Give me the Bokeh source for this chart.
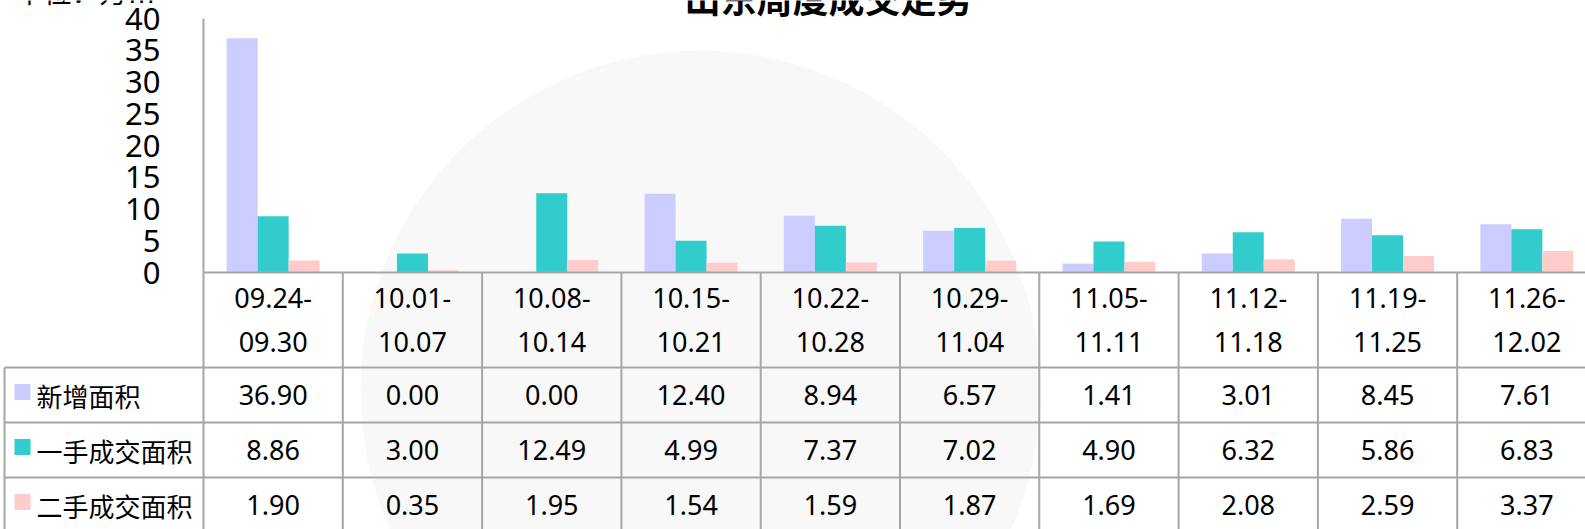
from bokeh.plotting import figure
from bokeh.models import Range1d
from bokeh.embed import file_html
from bokeh.resources import INLINE
from bokeh.core.properties import value

# ---------------- data ----------------
title_text = "山东周度成交走势"
unit_text = "单位：万㎡"
weeks = ["09.24-09.30", "10.01-10.07", "10.08-10.14", "10.15-10.21", "10.22-10.28",
         "10.29-11.04", "11.05-11.11", "11.12-11.18", "11.19-11.25", "11.26-12.02"]
series_names = ["新增面积", "一手成交面积", "二手成交面积"]
new_area = [36.90, 0.00, 0.00, 12.40, 8.94, 6.57, 1.41, 3.01, 8.45, 7.61]
first_hand = [8.86, 3.00, 12.49, 4.99, 7.37, 7.02, 4.90, 6.32, 5.86, 6.83]
second_hand = [1.90, 0.35, 1.95, 1.54, 1.59, 1.87, 1.69, 2.08, 2.59, 3.37]
y_ticks = [0, 5, 10, 15, 20, 25, 30, 35, 40]
colors = ["#CCCCFF", "#33CCCC", "#FFCCCC"]

# ---------------- layout constants (screen px) ----------------
W, H = 1585, 529
CW = 139.3          # px per category column
LEFT = 203          # x of the value axis
BASE = 272          # y of the value 0 / table top
TOP = 18            # y of the value 40
FONT = "Noto Sans CJK SC"
NUMFONT = "Noto Sans"
GRID = "#a6a6a6"
BW = 31 / CW
YMAX = 40
PX = (BASE - TOP) / YMAX

n = len(weeks)
series = [new_area, first_hand, second_hand]


def cx(px):
    """screen x (px) -> column units"""
    return (px - LEFT) / CW


xmax = cx(W)
xmin = cx(0)

p = figure(width=W, height=H, x_range=Range1d(xmin, xmax),
           y_range=Range1d(-(H - BASE) / PX, YMAX + TOP / PX),
           output_backend="svg", toolbar_location=None, min_border=0,
           x_axis_location=None, y_axis_location=None, outline_line_color=None, title=None)
p.extra_y_ranges = {"px": Range1d(H - BASE, -BASE)}   # pixel offsets below the table top
p.grid.visible = False
p.background_fill_color = "white"
p.border_fill_color = "white"

# faint watermark
p.circle(x=[cx(700)], y=[390 - BASE], radius=340, radius_units="screen",
         fill_color="#f8f8f8", line_color=None, y_range_name="px")

# bars
for k, vals in enumerate(series):
    xs = [i + 0.5 + (k - 1) * BW for i in range(n)]
    p.vbar(x=xs, top=vals, bottom=0, width=BW, fill_color=colors[k], line_color=None)

# value axis line + tick labels
p.segment(x0=[0], y0=[0], x1=[0], y1=[YMAX], line_color=GRID, line_width=2)
p.text(x=[cx(160)] * len(y_ticks), y=y_ticks, text=[str(v) for v in y_ticks],
       text_align="right", text_baseline="middle", text_font=value(NUMFONT),
       text_font_size="31px", text_color="black")

# title and unit (partly cut by the top edge, as in the reference)
p.text(x=[cx(828)], y=[-4 - BASE], text=[title_text], text_align="center",
       text_baseline="alphabetic", text_font=value(FONT), text_font_size="36px",
       text_font_style="bold", text_color="black", y_range_name="px")
p.text(x=[cx(15)], y=[-10 - BASE], text=[unit_text], text_align="left",
       text_baseline="alphabetic", text_font=value(FONT), text_font_size="28px",
       text_color="black", y_range_name="px")

# ---------------- data table ----------------
HEADER_H = 95
ROW_H = 55
TAB_H = H - BASE
row_tops = [HEADER_H + r * ROW_H for r in range(3)]
table_left = cx(4)

vx = list(range(n + 1))
p.segment(x0=vx, y0=[0] * len(vx), x1=vx, y1=[TAB_H + 5] * len(vx), line_color=GRID,
          line_width=2, y_range_name="px")
p.segment(x0=[table_left], y0=[HEADER_H], x1=[table_left], y1=[TAB_H + 5], line_color=GRID,
          line_width=2, y_range_name="px")
p.segment(x0=[0], y0=[0], x1=[xmax], y1=[0], line_color=GRID, line_width=2, y_range_name="px")
p.segment(x0=[table_left] * 3, y0=row_tops, x1=[xmax] * 3, y1=row_tops, line_color=GRID,
          line_width=2, y_range_name="px")

centers = [i + 0.5 for i in range(n)]
line1 = [w.split("-")[0] + "-" for w in weeks]
line2 = [w.split("-")[1] for w in weeks]
p.text(x=centers, y=[25] * n, text=line1, text_align="center", text_baseline="middle",
       text_font=value(NUMFONT), text_font_size="27px", text_color="black", y_range_name="px")
p.text(x=centers, y=[69] * n, text=line2, text_align="center", text_baseline="middle",
       text_font=value(NUMFONT), text_font_size="27px", text_color="black", y_range_name="px")

for k, vals in enumerate(series):
    yc = row_tops[k] + ROW_H / 2
    p.text(x=centers, y=[yc] * n, text=["%.2f" % v for v in vals], text_align="center",
           text_baseline="middle", text_font=value(NUMFONT), text_font_size="27px",
           text_color="black", y_range_name="px")
    p.rect(x=[cx(22)], y=[yc - 3], width=16, height=16, width_units="screen",
           height_units="screen", fill_color=colors[k], line_color=None, y_range_name="px")
    p.text(x=[cx(36)], y=[yc], text=[series_names[k]], text_align="left",
           text_baseline="middle", text_font=value(FONT), text_font_size="26px",
           text_color="black", y_range_name="px")

html = file_html(p, INLINE)
html = html.replace("</head>", "<style>html,body{margin:0;padding:0;}</style></head>", 1)
open("out.html", "w").write(html)
